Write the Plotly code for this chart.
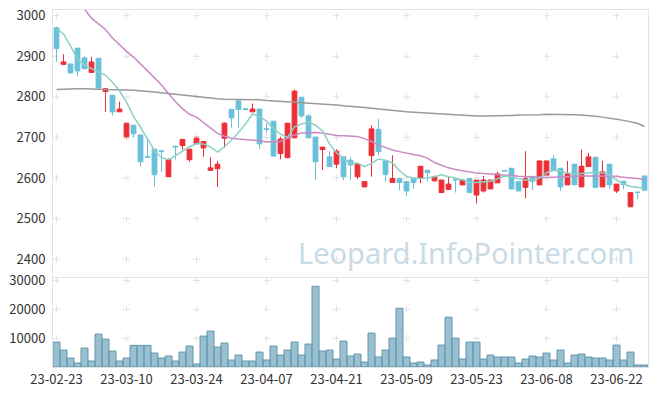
import plotly.graph_objects as go

dates = ["23-02-23","23-02-24","23-02-27","23-02-28",
"23-03-02","23-03-03","23-03-06","23-03-07","23-03-08","23-03-09","23-03-10","23-03-13","23-03-14","23-03-15","23-03-16","23-03-17","23-03-20","23-03-21","23-03-22","23-03-23","23-03-24","23-03-27","23-03-28","23-03-29","23-03-30","23-03-31",
"23-04-03","23-04-04","23-04-05","23-04-06","23-04-07","23-04-10","23-04-11","23-04-12","23-04-13","23-04-14","23-04-17","23-04-18","23-04-19","23-04-20","23-04-21","23-04-24","23-04-25","23-04-26","23-04-27","23-04-28",
"23-05-02","23-05-03","23-05-04","23-05-08","23-05-09","23-05-10","23-05-11","23-05-12","23-05-15","23-05-16","23-05-17","23-05-18","23-05-19","23-05-22","23-05-23","23-05-24","23-05-25","23-05-26","23-05-30","23-05-31",
"23-06-01","23-06-02","23-06-05","23-06-07","23-06-08","23-06-09","23-06-12","23-06-13","23-06-14","23-06-15","23-06-16","23-06-19","23-06-20","23-06-21","23-06-22","23-06-23","23-06-26","23-06-27","23-06-28"]

open_ = [2970,2880,2881,2920,2896,2860,2895,2813,2804,2763,2699,2730,2706,2653,2671,2667,2603,2678,2680,2645,
         2684,2674,2619,2623,2698,2769,2790,2770,2763,2770,2721,2740,2660,2650,2699,2799,2753,2701,2670,2652,
         2634,2652,2644,2603,2578,2655,2720,2642,2589,2599,2591,2599,2599,2619,2593,2564,2572,2596,2583,2599,
         2558,2568,2573,2588,2618,2624,2591,2577,2604,2583,2607,2647,2624,2583,2634,2578,2628,2651,2578,2634,
         2568,2592,2529,2565,2605]
high = [2973,2905,2881,2920,2901,2899,2895,2822,2804,2788,2736,2730,2706,2700,2671,2667,2648,2680,2695,2671,
        2701,2690,2651,2642,2737,2769,2790,2771,2784,2770,2735,2740,2702,2735,2818,2799,2757,2701,2676,2666,
        2671,2652,2652,2634,2591,2730,2745,2642,2656,2599,2591,2599,2629,2619,2606,2595,2603,2596,2598,2599,
        2595,2605,2595,2615,2620,2624,2591,2666,2604,2642,2642,2656,2624,2642,2634,2670,2662,2651,2642,2634,
        2585,2592,2564,2565,2605]
low = [2886,2880,2859,2850,2869,2860,2820,2763,2754,2763,2698,2699,2628,2651,2578,2614,2603,2646,2670,2640,
       2684,2652,2619,2578,2674,2724,2724,2766,2763,2671,2711,2654,2646,2650,2699,2748,2699,2595,2620,2628,
       2624,2595,2594,2597,2578,2603,2656,2591,2589,2570,2555,2573,2587,2592,2591,2564,2572,2564,2583,2564,
       2537,2564,2573,2588,2617,2573,2568,2550,2570,2583,2607,2619,2568,2583,2583,2578,2628,2577,2578,2574,
       2563,2572,2529,2548,2568]
close = [2919,2886,2859,2864,2869,2886,2822,2820,2763,2770,2735,2709,2640,2651,2608,2665,2646,2676,2695,2671,
         2701,2690,2625,2634,2735,2748,2769,2769,2770,2684,2720,2654,2696,2735,2814,2753,2699,2640,2676,2628,
         2666,2603,2632,2634,2591,2721,2665,2609,2599,2589,2568,2589,2629,2613,2603,2595,2585,2595,2595,2564,
         2595,2595,2595,2610,2617,2573,2568,2599,2592,2642,2642,2619,2578,2610,2583,2629,2652,2577,2615,2583,
         2585,2584,2564,2564,2570]

ma5 = [2968,2955,2925,2893,2878,2870,2860,2853,2836,2815,2787,2752,2725,2696,2668,2650,2645,2655,2666,2677,
       2685,2684,2676,2664,2677,2693,2712,2733,2758,2752,2740,2722,2708,2700,2726,2733,2738,2730,2716,2684,
       2662,2650,2636,2637,2628,2636,2647,2644,2637,2618,2604,2600,2599,2600,2603,2608,2603,2600,2595,2590,
       2589,2590,2592,2598,2605,2603,2598,2595,2596,2600,2613,2619,2617,2612,2610,2611,2613,2614,2613,2608,
       2595,2585,2579,2577,2575]
ma20 = [3105,3085,3060,3038,3016,2994,2980,2966,2945,2928,2912,2898,2882,2864,2847,2829,2808,2788,2771,2757,
        2750,2736,2722,2710,2703,2698,2696,2695,2694,2692,2689,2689,2690,2698,2706,2711,2712,2712,2711,2708,
        2705,2704,2703,2702,2697,2690,2681,2675,2669,2665,2661,2658,2655,2649,2638,2631,2625,2621,2618,2615,
        2612,2611,2610,2609,2607,2606,2604,2603,2602,2601,2601,2602,2603,2604,2605,2605,2605,2605,2605,2605,
        2604,2602,2601,2599,2597]
ma120 = [2818,2819,2819,2820,2820,2820,2819,2818,2818,2817,2817,2816,2815,2814,2812,2810,2808,2806,2804,2802,
         2800,2798,2796,2795,2794,2794,2794,2794,2794,2793,2791,2790,2789,2787,2786,2785,2784,2783,2782,2781,
         2780,2778,2777,2775,2774,2772,2770,2768,2766,2764,2763,2762,2761,2760,2759,2757,2756,2755,2754,2753,
         2753,2753,2753,2753,2754,2754,2755,2755,2756,2756,2757,2757,2757,2756,2756,2755,2754,2752,2750,2748,
         2745,2742,2739,2735,2727]
volume = [8650,5880,3110,1380,6570,2080,11420,9690,5540,2080,3110,7500,7500,7500,4840,3110,3810,2080,5190,7270,
          1040,10730,12460,6920,8300,2420,4150,2080,2080,5190,2420,7270,4150,5880,8650,4150,7960,28030,5540,5880,
          2770,9000,3810,4500,1730,11760,3460,5880,10030,20400,3460,1380,1730,690,2420,7610,17300,10030,2770,8650,
          8650,2770,4150,3460,3460,3460,1380,2770,3810,3460,4840,2420,5880,1380,4150,4500,3460,3110,3110,2420,
          7610,2420,5190,690,690]

price_ticks = [2400, 2500, 2600, 2700, 2800, 2900, 3000]
vol_ticks = [10000, 20000, 30000]
x_ticks = dates[::10]

UP = "#ec2f37"
DOWN = "#68c0d9"
FONT = "Noto Sans CJK KR"
N = len(dates)

fig = go.Figure()

# grid crosses
gx = [d for d in x_ticks for _ in price_ticks]
gy = [p for _ in x_ticks for p in price_ticks]
fig.add_trace(go.Scatter(x=gx, y=gy, mode="markers", xaxis="x", yaxis="y",
                         marker=dict(symbol="cross-thin", size=5, line=dict(color="#e2e2e2", width=1)),
                         hoverinfo="skip", showlegend=False))
vx = [d for d in x_ticks for _ in vol_ticks]
vy = [v for _ in x_ticks for v in vol_ticks]
fig.add_trace(go.Scatter(x=vx, y=vy, mode="markers", xaxis="x2", yaxis="y2",
                         marker=dict(symbol="cross-thin", size=5, line=dict(color="#e2e2e2", width=1)),
                         hoverinfo="skip", showlegend=False))

# candles: wicks then bodies
colors = [UP if c > o else DOWN for o, c in zip(open_, close)]
for col in (UP, DOWN):
    wx, wy = [], []
    for d, h, l, c in zip(dates, high, low, colors):
        if c == col:
            wx += [d, d, None]
            wy += [l, h, None]
    fig.add_trace(go.Scatter(x=wx, y=wy, mode="lines", line=dict(color=col, width=1),
                             xaxis="x", yaxis="y", hoverinfo="skip", showlegend=False))

body_base = [min(o, c) for o, c in zip(open_, close)]
body_len = [max(abs(c - o), 1.5) for o, c in zip(open_, close)]
fig.add_trace(go.Bar(x=dates, y=body_len, base=body_base, xaxis="x", yaxis="y",
                     marker=dict(color=colors, line=dict(color=colors, width=1)),
                     width=0.68, showlegend=False, customdata=list(zip(open_, high, low, close)),
                     hovertemplate="O %{customdata[0]}<br>H %{customdata[1]}<br>L %{customdata[2]}<br>C %{customdata[3]}<extra></extra>"))

fig.add_trace(go.Scatter(x=dates, y=ma120, mode="lines", line=dict(color="#9a9a9a", width=1.5),
                         xaxis="x", yaxis="y", showlegend=False))
fig.add_trace(go.Scatter(x=dates, y=ma20, mode="lines", line=dict(color="#c98ac6", width=1.5),
                         xaxis="x", yaxis="y", showlegend=False))
fig.add_trace(go.Scatter(x=dates, y=ma5, mode="lines", line=dict(color="#8dd0c4", width=1.5),
                         xaxis="x", yaxis="y", showlegend=False))

fig.add_trace(go.Bar(x=dates, y=volume, xaxis="x2", yaxis="y2",
                     marker=dict(color="rgba(120,170,192,0.75)", line=dict(color="#5f96ad", width=1)),
                     width=1.0, showlegend=False))

axis_common = dict(showgrid=False, zeroline=False, showline=True, linecolor="#e3e3e3", linewidth=1,
                   mirror=True, ticks="", automargin=False,
                   tickfont=dict(family=FONT, size=13, color="#333333"))

fig.update_layout(
    width=657, height=396,
    margin=dict(l=53, r=9, t=10, b=29),
    paper_bgcolor="white", plot_bgcolor="white",
    barmode="overlay",
    xaxis=dict(type="category", domain=[0, 1], anchor="y", showticklabels=False,
               range=[-0.5, N - 0.5],
               categoryorder="array", categoryarray=dates, **axis_common),
    yaxis=dict(domain=[0.2521, 1], range=[2356, 3014], tickvals=price_ticks, anchor="x",
               ticklabelstandoff=4, **axis_common),
    xaxis2=dict(type="category", domain=[0, 1], anchor="y2", matches="x",
                tickvals=x_ticks, ticktext=x_ticks, categoryorder="array", categoryarray=dates,
                ticklabelstandoff=0, **axis_common),
    yaxis2=dict(domain=[0, 0.2493], range=[0, 30900], tickvals=vol_ticks,
                ticktext=[str(v) for v in vol_ticks], anchor="x2",
                ticklabelstandoff=4, **axis_common),
    annotations=[dict(text="Leopard.InfoPointer.com", xref="paper", yref="paper",
                      x=0.9815, y=0.322, xanchor="right", yanchor="middle", showarrow=False,
                      font=dict(family="Noto Sans", size=29, color="#c9dbe6"))],
)

fig.write_html("out.html", config={"displayModeBar": False},
               post_script="document.body.style.margin='0px';")
